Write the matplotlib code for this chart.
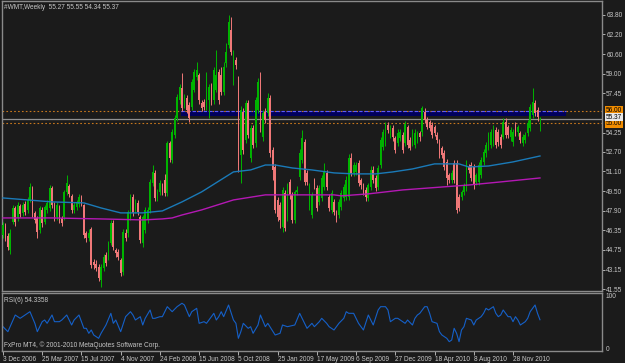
import numpy as np
import matplotlib
matplotlib.use("Agg")
import matplotlib.pyplot as plt
from matplotlib.patches import Rectangle
import matplotlib.transforms as mtransforms

# weekly WMT bars, week 0 = 3 Dec 2006
opens = [45.95, 46.68, 45.87, 44.73, 47.00, 48.13, 47.32, 48.29, 47.73, 48.46,
         47.97, 48.78, 49.75, 47.73, 47.32, 46.35, 47.97, 47.00, 47.97, 48.13,
         49.75, 48.37, 47.40, 48.21, 47.32, 47.40, 49.43, 49.91, 49.10, 47.97,
         48.21, 48.46, 49.02, 48.37, 46.11, 45.70, 46.43, 43.76, 43.60, 43.36,
         42.31, 43.28, 44.33, 44.17, 45.30, 46.92, 44.73, 44.57, 43.92, 42.96,
         46.11, 46.11, 47.40, 49.02, 47.97, 48.54, 47.40, 45.30, 46.35, 47.16,
         47.97, 50.16, 50.97, 48.94, 49.43, 49.99, 50.40, 49.35, 53.40, 52.03,
         54.05, 55.43, 56.89, 57.86, 56.48, 57.05, 56.48, 56.32, 57.70, 58.75,
         58.91, 56.64, 56.72, 56.32, 56.89, 58.10, 56.89, 57.70, 59.16, 58.91,
         57.53, 59.89, 61.34, 62.56, 59.48, 60.13, 58.51, 52.43, 55.91, 53.65,
         56.64, 52.19, 54.62, 53.40, 56.08, 58.51, 53.89, 55.91, 55.83, 57.05,
         52.84, 51.46, 48.78, 48.37, 46.59, 49.35, 47.32, 50.24, 49.18, 47.16,
         49.43, 50.65, 52.03, 53.48, 50.97, 48.21, 47.57, 50.40, 49.75, 48.62,
         48.94, 49.83, 50.97, 49.02, 47.97, 48.62, 47.81, 47.57, 48.21, 48.94,
         49.02, 49.02, 52.19, 50.97, 51.05, 51.78, 50.40, 49.99, 49.59, 48.94,
         49.83, 51.21, 50.56, 49.83, 51.62, 53.08, 53.48, 54.86, 54.05, 54.62,
         53.81, 53.40, 53.81, 54.05, 53.40, 54.70, 53.65, 53.40, 53.24, 53.65,
         54.21, 54.29, 55.91, 55.27, 55.10, 54.86, 54.70, 54.05, 53.48, 53.00,
         52.59, 51.86, 50.81, 50.40, 51.78, 51.78, 49.02, 49.02, 49.43, 49.75,
         51.46, 51.62, 51.46, 50.24, 50.24, 50.81, 51.86, 52.59, 53.00, 53.24,
         53.40, 54.46, 54.29, 53.89, 53.89, 55.10, 54.70, 53.89, 53.48, 54.86,
         54.29, 54.21, 53.40, 53.65, 54.21, 54.62, 55.67, 56.64, 56.08, 55.27]
closes = [46.76, 45.70, 44.98, 46.11, 48.13, 47.00, 48.37, 47.65, 48.37, 47.81,
          48.78, 49.83, 47.73, 47.16, 46.19, 48.13, 46.92, 48.21, 48.54, 49.75,
          48.37, 47.40, 48.37, 47.16, 46.92, 49.43, 50.16, 49.27, 47.97, 48.37,
          48.62, 49.02, 48.54, 45.95, 45.70, 46.11, 43.52, 43.52, 43.28, 42.47,
          43.36, 44.17, 43.68, 45.30, 46.92, 44.98, 44.49, 44.17, 42.88, 46.19,
          45.70, 47.81, 49.02, 47.73, 48.62, 47.81, 45.54, 47.40, 47.97, 47.97,
          50.24, 51.05, 48.94, 49.43, 50.16, 49.43, 49.35, 53.40, 52.19, 54.29,
          55.43, 57.13, 57.94, 56.24, 57.13, 56.08, 55.43, 58.35, 59.16, 59.32,
          56.89, 56.24, 56.32, 57.94, 57.94, 56.72, 59.32, 58.91, 56.89, 57.53,
          59.56, 60.78, 63.21, 60.78, 60.70, 59.72, 51.62, 56.08, 52.84, 56.64,
          54.05, 54.62, 53.24, 56.89, 58.35, 54.62, 55.83, 55.27, 57.05, 52.59,
          51.21, 47.97, 47.40, 47.16, 49.59, 46.51, 49.99, 49.18, 47.16, 49.43,
          49.59, 52.59, 53.81, 50.24, 50.24, 49.99, 49.18, 49.99, 48.13, 49.75,
          50.56, 51.05, 49.83, 48.13, 49.35, 47.81, 47.32, 48.62, 49.35, 49.83,
          50.40, 52.19, 50.97, 51.62, 51.62, 50.16, 49.99, 49.43, 49.02, 49.99,
          51.21, 50.40, 49.75, 51.38, 53.65, 54.29, 54.86, 54.46, 54.62, 53.89,
          52.84, 54.21, 54.29, 52.84, 54.94, 53.24, 53.00, 54.21, 54.21, 54.21,
          53.89, 56.24, 55.27, 54.70, 54.62, 54.05, 54.21, 53.65, 52.43, 52.43,
          51.46, 50.56, 50.40, 50.97, 50.40, 47.97, 48.13, 49.43, 49.99, 51.78,
          51.21, 50.56, 49.99, 50.81, 51.62, 52.03, 52.67, 53.24, 54.05, 54.29,
          54.62, 53.24, 53.48, 53.24, 55.10, 54.05, 54.05, 54.46, 54.29, 54.29,
          54.70, 53.65, 53.89, 54.05, 55.02, 56.32, 56.72, 55.83, 55.51, 55.37]
highs = [47.0, 46.9, 46.1, 46.4, 48.4, 48.3, 48.6, 48.5, 48.6, 48.7,
         49.0, 50.2, 49.9, 47.9, 47.5, 48.3, 48.2, 48.4, 48.8, 50.0,
         49.9, 48.6, 48.6, 48.4, 47.5, 49.6, 50.8, 50.1, 49.3, 48.6,
         48.8, 49.3, 49.2, 48.5, 46.3, 46.4, 46.6, 44.0, 43.9, 43.6,
         43.6, 44.4, 44.6, 45.5, 47.2, 47.2, 44.9, 44.8, 44.1, 46.4,
         46.4, 48.0, 49.3, 49.3, 48.9, 48.8, 47.6, 47.6, 48.2, 48.2,
         50.5, 51.6, 51.2, 49.7, 50.4, 50.2, 50.9, 53.6, 53.6, 54.5,
         55.7, 57.4, 58.2, 59.08, 57.4, 57.3, 56.7, 58.6, 59.4, 59.97,
         59.1, 56.9, 57.0, 59.16, 58.2, 58.3, 59.6, 60.94, 59.4, 59.56,
         59.97, 61.51, 63.8, 63.61, 60.94, 60.4, 58.8, 56.4, 56.2, 56.9,
         56.9, 54.9, 54.9, 57.1, 58.67, 59.16, 56.1, 56.2, 57.45, 57.3,
         53.1, 51.7, 49.0, 48.6, 49.8, 49.6, 50.2, 50.5, 49.4, 49.6,
         49.9, 52.9, 54.46, 53.7, 51.2, 50.2, 49.4, 50.6, 50.0, 50.0,
         50.8, 51.78, 51.2, 49.3, 49.6, 48.9, 48.0, 48.9, 49.6, 50.1,
         50.7, 52.5, 52.6, 51.9, 51.9, 52.0, 50.6, 50.2, 49.8, 50.2,
         51.5, 51.5, 50.8, 51.6, 53.9, 54.5, 55.1, 55.1, 54.9, 54.9,
         54.0, 54.5, 54.5, 54.3, 55.2, 54.9, 53.9, 54.5, 54.5, 54.4,
         54.4, 56.4, 56.2, 55.5, 55.3, 55.1, 54.9, 54.3, 53.7, 53.2,
         52.8, 52.1, 51.0, 51.2, 52.0, 52.0, 49.3, 49.6, 50.2, 52.0,
         51.7, 51.9, 51.7, 51.0, 51.9, 52.3, 52.9, 53.5, 54.3, 54.5,
         54.9, 54.7, 54.5, 54.1, 55.4, 55.4, 54.9, 54.7, 54.5, 55.1,
         54.9, 54.4, 54.1, 54.3, 55.3, 56.6, 57.86, 56.9, 56.3, 55.55]
lows = [45.7, 45.5, 44.7, 44.4, 46.8, 46.7, 47.1, 47.4, 47.5, 47.6,
        47.7, 48.6, 47.4, 46.9, 45.7, 46.1, 46.6, 46.8, 47.7, 47.9,
        48.1, 47.1, 47.2, 46.9, 46.7, 47.2, 49.2, 49.0, 47.7, 47.7,
        48.0, 48.2, 48.3, 45.7, 45.4, 45.5, 43.3, 43.2, 43.0, 42.2,
        41.75, 43.0, 43.4, 43.9, 45.1, 44.7, 44.2, 43.9, 42.6, 42.7,
        45.5, 45.8, 47.2, 47.5, 47.7, 47.6, 45.3, 45.0, 46.1, 46.9,
        47.7, 49.9, 48.7, 48.7, 49.2, 49.2, 49.1, 49.1, 51.9, 51.8,
        53.8, 55.2, 56.6, 56.0, 56.2, 55.8, 55.1, 56.1, 57.5, 58.5,
        56.6, 56.0, 56.1, 56.1, 55.43, 56.5, 56.6, 57.5, 56.6, 57.3,
        57.3, 59.6, 61.1, 60.5, 58.1, 59.4, 51.05, 50.16, 52.5, 53.4,
        53.8, 51.9, 53.0, 53.1, 55.8, 54.3, 53.6, 55.0, 55.6, 52.3,
        50.4, 47.7, 47.1, 46.51, 46.19, 46.3, 47.1, 48.9, 46.9, 46.9,
        49.2, 50.4, 51.8, 50.0, 50.0, 48.0, 47.3, 49.7, 47.9, 48.4,
        48.7, 49.6, 49.6, 47.9, 47.7, 47.6, 47.0, 47.3, 48.0, 48.7,
        48.8, 48.8, 50.7, 50.7, 50.8, 49.9, 49.7, 49.2, 48.7, 48.7,
        49.6, 50.2, 49.5, 49.6, 51.4, 52.8, 53.2, 54.2, 53.8, 53.6,
        52.6, 53.2, 53.6, 52.6, 53.2, 53.0, 52.8, 53.2, 53.0, 53.4,
        53.6, 54.0, 55.0, 54.5, 54.4, 53.8, 54.0, 53.4, 52.2, 52.2,
        51.2, 49.99, 50.2, 50.2, 50.2, 47.73, 47.9, 48.8, 49.2, 49.5,
        51.0, 50.3, 49.7, 50.0, 50.0, 50.6, 51.6, 52.3, 52.8, 53.0,
        53.2, 53.0, 53.2, 53.0, 53.7, 53.8, 53.8, 53.6, 53.2, 54.0,
        54.0, 53.4, 53.2, 53.4, 54.0, 54.4, 55.4, 55.6, 55.2, 54.34]

# moving averages read at a few weeks
ma_blue_weeks = [0, 20, 33, 40, 48, 57, 65, 73, 81, 94, 101, 107, 111, 118, 126,
                 135, 143, 152, 159, 167, 176, 186, 190, 198, 208, 219]
ma_blue = [48.95, 48.63, 48.55, 48.14, 47.74, 47.74, 47.90, 48.63, 49.44, 51.06,
           51.22, 51.62, 51.62, 51.38, 51.22, 50.98, 50.90, 50.90, 51.06, 51.30,
           51.71, 51.71, 51.46, 51.54, 51.87, 52.35]
ma_mag_weeks = [0, 20, 40, 57, 65, 69, 73, 81, 94, 107, 135, 138, 149, 163, 190, 203, 219]
ma_mag = [47.33, 47.33, 47.25, 47.17, 47.25, 47.33, 47.57, 47.98, 48.79, 49.20,
          49.20, 49.12, 49.28, 49.60, 50.00, 50.25, 50.57]

# RSI(6)
rsi_weeks = [0, 2, 5, 7, 8, 11, 13, 14, 16, 17, 18, 20, 21, 23, 24, 26, 28, 29, 31,
             33, 34, 35, 36, 37, 39, 40, 42, 44, 45, 46, 48, 50, 52, 53, 54, 56, 57,
             58, 60, 61, 62, 64, 65, 67, 69, 71, 73, 74, 76, 77, 79, 80, 82, 83, 86,
             87, 88, 89, 90, 92, 94, 95, 96, 97, 98, 100, 101, 102, 104, 105, 107,
             108, 111, 113, 114, 116, 119, 121, 124, 126, 127, 129, 130, 132, 133,
             135, 137, 139, 140, 141, 143, 144, 145, 147, 149, 150, 151, 153, 154,
             156, 157, 158, 160, 161, 162, 164, 165, 167, 168, 169, 170, 172, 173,
             174, 175, 177, 178, 179, 181, 182, 183, 184, 185, 186, 187, 188, 189,
             191, 192, 193, 195, 196, 197, 198, 200, 201, 202, 203, 204, 206, 207,
             208, 209, 210, 211, 213, 214, 215, 217, 218, 219]
rsi_vals = [41.1, 31.6, 63.3, 57.0, 60.1, 69.6, 47.5, 31.6, 50.6, 53.8, 47.5, 63.3,
            50.6, 50.6, 53.8, 63.3, 44.3, 53.8, 63.3, 38.0, 38.0, 28.5, 34.8, 25.3,
            19.0, 28.5, 44.3, 66.5, 47.5, 53.8, 31.6, 60.1, 69.6, 63.3, 53.8, 60.1,
            44.3, 57.0, 72.8, 57.0, 57.0, 60.1, 60.1, 79.1, 69.6, 79.1, 85.6, 82.3,
            60.1, 69.6, 76.0, 47.5, 50.6, 47.5, 66.5, 53.8, 60.1, 69.6, 60.1, 82.3,
            53.8, 47.5, 19.0, 31.6, 47.5, 38.0, 41.1, 28.5, 44.3, 63.3, 41.1, 47.5,
            25.3, 28.5, 44.3, 41.1, 44.3, 66.5, 38.0, 47.5, 41.1, 50.6, 57.0, 47.5,
            41.1, 34.8, 47.5, 57.0, 69.6, 66.5, 66.5, 57.0, 47.5, 34.8, 63.3, 53.8,
            44.3, 72.8, 79.1, 79.1, 72.8, 50.6, 57.0, 57.0, 53.8, 47.5, 53.8, 44.3,
            57.0, 63.3, 66.5, 79.1, 79.1, 66.5, 50.6, 47.5, 31.6, 25.3, 19.0, 12.6,
            15.8, 38.0, 28.5, 12.6, 34.8, 41.1, 57.0, 53.8, 44.3, 53.8, 60.1, 66.5,
            76.0, 72.8, 79.1, 66.5, 60.1, 63.3, 72.8, 60.1, 60.1, 50.6, 60.1, 53.8,
            44.3, 50.6, 57.0, 69.6, 82.3, 66.5, 54.3]

date_labels = ["3 Dec 2006", "25 Mar 2007", "15 Jul 2007", "4 Nov 2007", "24 Feb 2008",
               "15 Jun 2008", "5 Oct 2008", "25 Jan 2009", "17 May 2009", "6 Sep 2009",
               "27 Dec 2009", "18 Apr 2010", "8 Aug 2010", "28 Nov 2010"]
price_ticks = [63.80, 62.20, 60.60, 59.00, 57.45, 54.25, 52.70, 51.10, 49.50,
               47.90, 46.35, 44.75, 43.15, 41.55]

plt.rcParams["font.family"] = ["Liberation Sans", "DejaVu Sans"]

bg = "#1b1b1b"
txt = "#c8c8c8"
frame = "#8a8a8a"
fs = 4.7

fig = plt.figure(figsize=(6.25, 3.63), dpi=100, facecolor=bg)
ax = fig.add_axes([2 / 625, 1 - 291 / 363, 600 / 625, 290 / 363], facecolor=bg)
ax2 = fig.add_axes([2 / 625, 1 - 351 / 363, 600 / 625, 58 / 363], facecolor=bg)

o = np.array(opens)
c = np.array(closes)
h = np.array(highs)
l = np.array(lows)
wk = np.arange(len(c))
up = c >= o
col = np.where(up, "#00b400", "#f07878")

# candles
ax.vlines(wk, l, h, colors=col, lw=0.7, zorder=3)
body = np.maximum(np.abs(c - o), 0.04)
ax.bar(wk, body, bottom=np.minimum(o, c), width=0.7, color=col, lw=0, zorder=4)

ax.plot(ma_blue_weeks, ma_blue, color="#1a7ab8", lw=1.0, zorder=5)
ax.plot(ma_mag_weeks, ma_mag, color="#b418b4", lw=1.0, zorder=5)

# zone and levels
ax.add_patch(Rectangle((72.5, 55.6), 229.6 - 72.5, 0.4, facecolor="#00005e",
                       edgecolor="none", zorder=1))
ax.axhline(56.0, color="#c8781e", lw=0.8, ls=(0, (1.5, 2)), zorder=2)
ax.axhline(55.0, color="#c8781e", lw=0.8, ls=(0, (1.5, 2)), zorder=2)
ax.hlines(56.0, 72.5, 229.6, colors="#5a5aff", lw=0.8, linestyles=(0, (3, 2)), zorder=2)
ax.axhline(55.37, color="#909090", lw=0.9, zorder=2)

xmin, xmax = -0.4, 244.3
ax.set_xlim(xmin, xmax)
ax.set_ylim(41.41, 64.91)
ax.set_xticks([])
ax.set_yticks(price_ticks)
ax.set_yticklabels(["%.2f" % v for v in price_ticks])
ax.tick_params(axis="y", left=False, labelleft=False, right=True, labelright=True,
               length=2, width=0.6, pad=1.0, labelsize=fs, colors=txt)
for s in ax.spines.values():
    s.set_color(frame)
    s.set_linewidth(1.0)

trans = mtransforms.blended_transform_factory(ax.transAxes, ax.transData)
for val, ypos, fc in [(56.00, 56.02, "#f08c00"), (55.00, 54.96, "#f08c00"),
                      (55.37, 55.50, "#e8e8e8")]:
    ax.text(1.006, ypos, "%.2f" % val, transform=trans, fontsize=fs, color="black",
            va="center", ha="left",
            bbox=dict(facecolor=fc, edgecolor="none", pad=0.5), zorder=6, clip_on=False)

ax.text(0.004, 0.988, "#WMT,Weekly  55.27 55.55 54.34 55.37", transform=ax.transAxes,
        fontsize=fs, color=txt, va="top", ha="left")

# RSI panel
ax2.plot(rsi_weeks, rsi_vals, color="#1560c8", lw=0.8)
ax2.set_xlim(xmin, xmax)
ax2.set_ylim(-5.1, 105.1)
ax2.set_yticks([0, 100])
ax2.set_yticklabels(["0", "100"])
ax2.tick_params(axis="y", left=False, labelleft=False, right=True, labelright=True,
                length=0, pad=2.5, labelsize=fs, colors=txt)
ax2.set_xticks(np.arange(len(date_labels)) * 16)
ax2.set_xticklabels(date_labels, ha="left")
ax2.tick_params(axis="x", length=3, width=0.6, pad=0.8, labelsize=fs, colors=txt)
for s in ax2.spines.values():
    s.set_color(frame)
    s.set_linewidth(1.0)
ax2.text(0.004, 0.93, "RSI(6) 54.3358", transform=ax2.transAxes, fontsize=fs,
         color=txt, va="top", ha="left")
ax2.text(0.004, 0.03, "FxPro MT4, \u00a9 2001-2010 MetaQuotes Software Corp.",
         transform=ax2.transAxes, fontsize=fs, color=txt, va="bottom", ha="left")

fig.savefig("out.png", dpi=100, facecolor=bg)
